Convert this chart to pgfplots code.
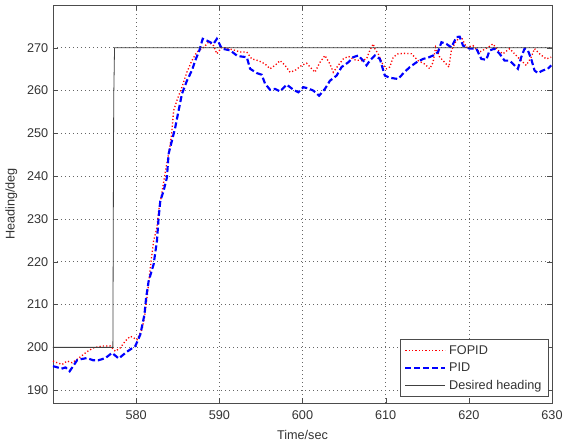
\documentclass[border=0pt]{standalone}
\usepackage{fontspec}
\setmainfont{Liberation Sans}
\usepackage{pgfplots}
\pgfplotsset{compat=1.18}
\begin{document}
\begin{tikzpicture}
\begin{axis}[
  scale only axis,
  width=374.25pt, height=298.5pt,
  xmin=570, xmax=630, ymin=187, ymax=280,
  xtick={580,590,600,610,620,630},
  ytick={190,200,210,220,230,240,250,260,270},
  /pgf/number format/assume math mode=true,
  /pgf/number format/1000 sep={},
  tick label style={font=\fontsize{9.5}{11}\selectfont, text=black!80},
  xticklabel style={yshift=-2pt},
  label style={font=\fontsize{9.5}{11}\selectfont, text=black!80},
  xlabel={Time/sec}, ylabel={Heading/deg},
  xlabel style={yshift=-1.5pt},
  ylabel style={yshift=0.5pt},
  grid=major,
  major grid style={black!60, dash pattern=on 0.6pt off 2.4pt, line width=0.5pt},
  axis line style={black!70, line width=0.6pt},
  tick align=inside, xtick pos=both, ytick pos=both,
  major tick length=4pt,
  tick style={black!70},
  legend style={at={(0.993,0.015)}, anchor=south east, draw=black!70, line width=0.6pt,
    font=\fontsize{9.5}{11}\selectfont, text=black!80, inner xsep=3pt, inner ysep=2pt, row sep=1pt},
  legend cell align=left,
  legend image code/.code={\draw[#1] (0pt,0pt) -- (30pt,0pt);},
]
\addplot[red, line width=1pt, dash pattern=on 0.9pt off 1.6pt] coordinates {
(570.0,196.8)(570.5,196.4)(571.1,196.0)(571.7,196.8)(572.3,196.4)(572.9,197.2)(573.5,198.1)(574.1,199.0)(574.9,199.9)(575.9,200.3)(576.9,200.3)(577.5,199.1)(578.1,199.9)(578.7,201.5)(579.3,202.6)(580.1,201.8)(580.7,204.2)(581.0,207.0)(581.3,211.5)(581.7,218.6)(582.1,224.9)(582.5,228.0)(582.7,231.9)(583.0,235.0)(583.5,240.9)(583.9,245.2)(584.1,247.5)(584.3,250.6)(584.5,255.3)(584.9,257.7)(585.5,260.8)(586.1,264.3)(586.7,267.0)(587.3,269.0)(588.1,270.1)(588.7,271.3)(589.3,270.5)(589.7,268.6)(590.3,270.1)(591.1,269.8)(591.9,269.4)(592.5,269.0)(593.3,269.0)(593.9,267.4)(594.7,267.0)(595.5,266.2)(596.1,265.1)(596.7,265.9)(597.3,267.0)(597.9,265.9)(598.5,264.3)(599.1,264.7)(599.9,265.9)(600.5,266.4)(601.1,265.1)(601.5,264.3)(602.1,266.6)(602.7,268.2)(603.3,266.2)(603.7,264.3)(604.3,265.9)(604.9,267.4)(605.5,268.0)(606.3,267.2)(607.1,267.0)(607.7,267.4)(608.1,269.4)(608.5,270.9)(608.7,269.8)(609.1,268.6)(609.7,265.9)(610.1,265.1)(610.5,265.5)(610.9,267.8)(611.5,268.6)(612.3,268.7)(613.1,268.6)(613.9,267.0)(614.7,266.2)(615.3,265.1)(615.7,266.6)(616.0,270.1)(616.5,267.8)(617.1,266.6)(617.6,265.5)(617.9,269.4)(618.5,271.7)(619.1,272.5)(619.7,270.1)(620.5,270.5)(621.3,269.0)(622.3,270.1)(622.9,270.9)(623.5,269.4)(624.1,268.6)(624.9,269.8)(625.5,268.6)(626.1,267.4)(626.9,265.9)(627.5,267.8)(627.9,269.8)(628.5,268.6)(629.3,267.4)(629.9,267.8)
};
\addlegendentry{FOPID}
\addplot[blue, line width=1.6pt, dash pattern=on 4.5pt off 2.2pt] coordinates {
(570.0,195.6)(570.4,195.4)(571.0,195.0)(571.5,195.3)(572.0,194.4)(572.9,197.0)(573.5,197.3)(574.1,197.5)(574.8,197.0)(575.5,197.0)(576.3,197.5)(577.1,198.7)(577.9,197.4)(578.9,199.0)(579.9,200.3)(580.5,203.0)(581.0,207.7)(581.2,211.6)(581.5,215.5)(582.1,219.4)(582.5,224.9)(582.7,230.3)(582.9,234.2)(583.3,236.6)(583.7,239.7)(583.9,245.2)(584.3,248.3)(584.7,251.4)(585.1,255.3)(585.5,259.2)(586.1,262.3)(586.7,264.7)(587.1,267.0)(587.6,269.4)(588.0,272.1)(588.5,271.7)(589.3,270.9)(589.7,272.1)(590.3,269.8)(591.3,269.4)(592.1,268.2)(592.5,268.0)(593.3,267.8)(593.7,265.1)(594.5,264.1)(595.1,263.7)(595.5,261.6)(596.1,260.2)(596.7,260.4)(597.3,259.8)(598.1,261.4)(598.9,260.2)(599.5,259.6)(600.1,260.8)(600.7,260.5)(601.3,260.0)(602.0,258.8)(602.7,260.4)(603.3,262.3)(604.1,263.5)(604.7,265.5)(605.5,266.6)(606.1,267.8)(606.7,268.2)(607.3,267.0)(607.7,265.9)(608.1,267.0)(608.7,268.2)(609.3,267.4)(609.9,263.5)(610.5,263.0)(611.5,262.7)(612.1,264.0)(612.9,265.5)(613.7,266.6)(614.5,267.4)(615.1,267.7)(615.7,268.2)(616.3,269.0)(616.7,271.3)(617.3,270.9)(617.9,270.1)(618.5,272.5)(618.9,272.6)(619.3,270.5)(620.1,269.8)(620.9,269.8)(621.5,267.4)(622.1,267.2)(622.5,269.4)(623.1,269.8)(623.7,268.6)(624.3,267.0)(624.9,267.0)(625.5,265.9)(625.9,265.1)(626.3,267.8)(626.7,269.8)(627.1,269.4)(627.5,267.4)(627.9,264.7)(628.3,264.1)(628.9,264.7)(629.5,265.1)(629.9,265.9)
};
\addlegendentry{PID}
\addplot[black!75, line width=0.6pt] coordinates {
(570,200)(577.2,200)(577.3,258)(577.4,270)(630,270)
};
\addlegendentry{Desired heading}
\end{axis}
\pgfresetboundingbox
\useasboundingbox ([xshift=-39.75pt,yshift=-29.25pt]current axis.south west) rectangle ([xshift=9pt,yshift=3.75pt]current axis.north east);
\end{tikzpicture}
\end{document}
